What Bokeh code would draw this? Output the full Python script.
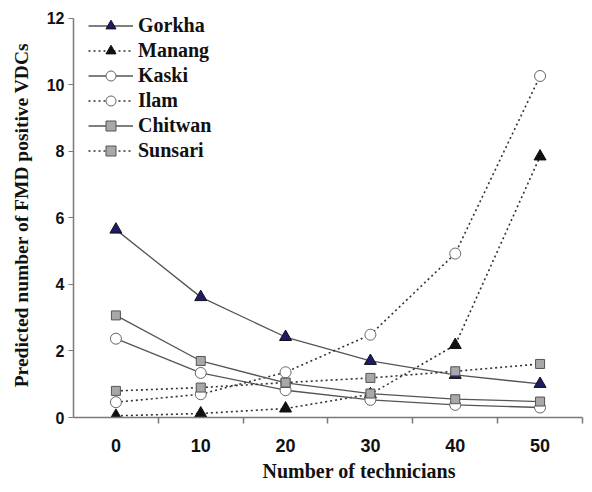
from bokeh.plotting import figure
from bokeh.models import Range1d, LinearAxis, FixedTicker, Legend, LegendItem, Title
from bokeh.embed import file_html
from bokeh.resources import INLINE

technicians = [0, 10, 20, 30, 40, 50]
gorkha = [5.65, 3.62, 2.42, 1.70, 1.28, 1.01]
manang = [0.05, 0.12, 0.27, 0.70, 2.18, 7.85]
kaski = [2.37, 1.34, 0.82, 0.53, 0.38, 0.30]
ilam = [0.46, 0.70, 1.36, 2.49, 4.93, 10.27]
chitwan = [3.07, 1.70, 1.04, 0.72, 0.55, 0.48]
sunsari = [0.80, 0.90, 1.05, 1.19, 1.39, 1.61]
x_ticks = [0, 10, 20, 30, 40, 50]
x_minor = [5, 15, 25, 35, 45, 55]
y_ticks = [0, 2, 4, 6, 8, 10, 12]

p = figure(width=584, height=484, x_range=Range1d(-5, 55.12), y_range=Range1d(0, 12.18),
           output_backend="svg", toolbar_location=None, x_axis_type=None, y_axis_type=None,
           min_border_left=73, min_border_right=1, min_border_top=12, min_border_bottom=64)
p.grid.visible = False
p.outline_line_color = None

axis_col = "#7a7a7a"
tick_font = "Liberation Sans"
serif = "Liberation Serif"

yax = LinearAxis(ticker=FixedTicker(ticks=y_ticks), bounds=(0, 12))
yax.axis_line_color = axis_col
yax.axis_line_width = 1.5
yax.major_tick_line_color = axis_col
yax.major_tick_out = 5
yax.major_tick_in = 0
yax.minor_tick_out = 0
yax.major_label_text_font = tick_font
yax.major_label_text_font_style = "bold"
yax.major_label_text_font_size = "16px"
yax.major_label_text_color = "#111111"
yax.major_label_standoff = 4
yax.axis_label = "Predicted number of FMD positive VDCs"
yax.axis_label_text_font = serif
yax.axis_label_text_font_style = "bold"
yax.axis_label_text_font_size = "19.5px"
yax.axis_label_text_color = "#111111"
yax.axis_label_standoff = 12
p.add_layout(yax, "left")

xax = LinearAxis(ticker=FixedTicker(ticks=x_ticks, minor_ticks=x_minor), bounds=(-5, 55))
xax.axis_line_color = axis_col
xax.axis_line_width = 1.5
xax.major_tick_line_color = None
xax.major_tick_out = 0
xax.major_tick_in = 0
xax.minor_tick_line_color = axis_col
xax.minor_tick_line_width = 1.5
xax.minor_tick_out = 6
xax.minor_tick_in = 0
xax.major_label_text_font = tick_font
xax.major_label_text_font_style = "bold"
xax.major_label_text_font_size = "18px"
xax.major_label_text_color = "#111111"
xax.major_label_standoff = 15
p.add_layout(xax, "below")

solid_col = "#555555"
dot_col = "#333333"
dash = "2 3"

series = [
    ("Gorkha", gorkha, "solid", "triangle", "#1c1c6b", "#111111", 12),
    ("Manang", manang, dash, "triangle", "#111111", "#111111", 12),
    ("Kaski", kaski, "solid", "circle", "white", "#666666", 11),
    ("Ilam", ilam, dash, "circle", "white", "#666666", 11),
    ("Chitwan", chitwan, "solid", "square", "#a8a8a8", "#555555", 9),
    ("Sunsari", sunsari, dash, "square", "#a8a8a8", "#555555", 9),
]

items = []
for name, vals, ld, mk, fc, lc, sz in series:
    if ld == "solid":
        r1 = p.line(technicians, vals, line_color=solid_col, line_width=1.3)
    else:
        r1 = p.line(technicians, vals, line_color=dot_col, line_width=1.6, line_dash=ld)
    r2 = p.scatter(technicians, vals, marker=mk, size=sz, fill_color=fc, line_color=lc, line_width=1)
    items.append(LegendItem(label=name, renderers=[r1, r2]))

legend = Legend(items=items, location=(15, 254), orientation="vertical")
legend.background_fill_alpha = 0
legend.border_line_color = None
legend.padding = 0
legend.margin = 0
legend.spacing = 0
legend.glyph_width = 45
legend.glyph_height = 25
legend.label_height = 25
legend.label_standoff = 5
legend.label_text_font = serif
legend.label_text_font_style = "bold"
legend.label_text_font_size = "20px"
legend.label_text_color = "#111111"
p.add_layout(legend, "center")

p.add_layout(Title(text="Number of technicians", align="left", offset=189, standoff=6,
                   text_font=serif, text_font_style="bold", text_font_size="20px",
                   text_color="#111111"), "below")

open("out.html", "w").write(file_html(p, INLINE))
